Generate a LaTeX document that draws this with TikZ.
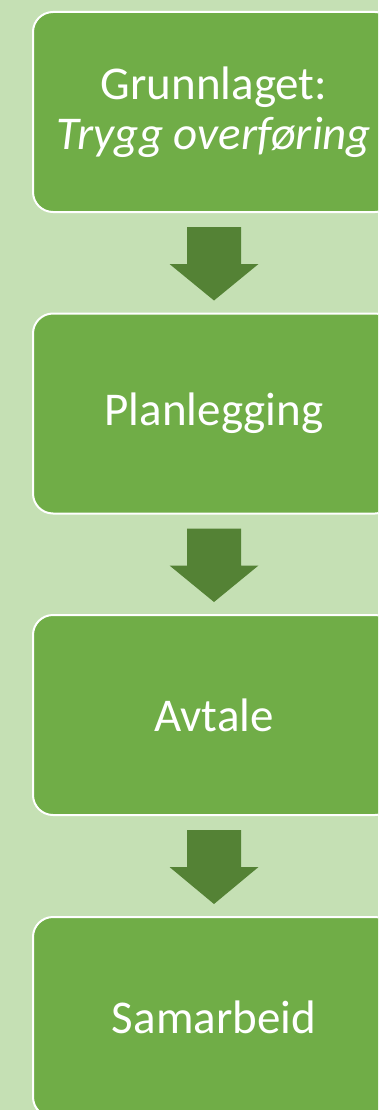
\documentclass[tikz,border=0pt]{standalone}
\usepackage{fontspec}
\setmainfont{Carlito}
\usetikzlibrary{positioning,calc}
\definecolor{bggreen}{HTML}{C5E0B4}
\definecolor{boxgreen}{HTML}{70AD47}
\definecolor{arrowgreen}{HTML}{548235}

\begin{document}
\begin{tikzpicture}[x=1pt,y=-1pt,
  stage/.style={draw=white, line width=2pt, fill=boxgreen, rounded corners=20pt,
    minimum width=362pt, minimum height=200pt, text=white, align=center,
    font=\fontsize{47}{57}\selectfont}]
\fill[bggreen] (0,0) rectangle (378,1110);
\clip (0,0) rectangle (378,1110);

\node[stage, font=\fontsize{47}{50}\selectfont] (grunn) at (214,112) {Grunnlaget:\\\textit{Trygg overføring}};
\node[stage] (plan) at (214,413.5) {Planlegging};
\node[stage] (avtale) at (214,715) {Avtale};
\node[stage] (samarb) at (214,1017) {Samarbeid};

% block arrows between the stages
\foreach \a/\b in {grunn/plan, plan/avtale, avtale/samarb} {
  \fill[arrowgreen] ($(\a.south)+(-27,14)$) -- ($(\a.south)+(27,14)$)
    -- ($(\a.south)+(27,51)$) -- ($(\a.south)+(44.5,51)$)
    -- ($(\b.north)+(0,-12)$)
    -- ($(\a.south)+(-44.5,51)$) -- ($(\a.south)+(-27,51)$) -- cycle;
}
\end{tikzpicture}
\end{document}
